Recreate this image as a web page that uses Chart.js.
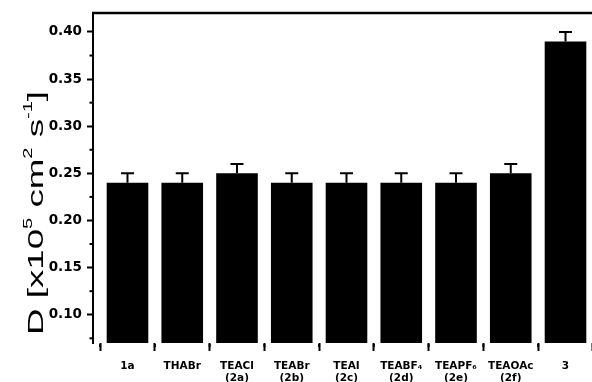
<!DOCTYPE html>
<html>
<head>
<meta charset="utf-8">
<script src="https://cdn.jsdelivr.net/npm/chart.js@4.4.0/dist/chart.umd.min.js"></script>
<style>
  html, body { margin: 0; padding: 0; background: #fff; overflow: hidden; width: 592px; height: 382px; }
  #wrap { width: 600px; height: 382px; }
</style>
</head>
<body>
<div id="wrap"><canvas id="chart" width="600" height="382"></canvas></div>
<script>
// Electrolytes / salts on the category axis (multi-line labels)
const categories = [
  ['1a'], ['THABr'], ['TEACl', '(2a)'], ['TEABr', '(2b)'], ['TEAI', '(2c)'],
  ['TEABF\u2084', '(2d)'], ['TEAPF\u2086', '(2e)'], ['TEAOAc', '(2f)'], ['3']
];
// Diffusion coefficients D in units of 10^-5 cm^2 s^-1
const diffusion = [0.24, 0.24, 0.25, 0.24, 0.24, 0.24, 0.24, 0.25, 0.39];
// Upper error bar sizes
const errors = [0.01, 0.01, 0.01, 0.01, 0.01, 0.01, 0.01, 0.01, 0.01];
// Value axis ticks
const yTicks = [0.10, 0.15, 0.20, 0.25, 0.30, 0.35, 0.40];
const yMinorTicks = [0.075, 0.125, 0.175, 0.225, 0.275, 0.325, 0.375];
// Axis title pieces: [text, superscript?]
const yTitleParts = [['D [x10', false], ['5', true], [' cm', false], ['2', true], [' s', false], ['-1', true], [']', false]];

const points = diffusion.map((v, i) => ({ x: i + 1, y: v }));

const decorations = {
  id: 'decorations',
  afterDatasetsDraw(chart) {
    const { ctx, chartArea: a, scales: { x, y } } = chart;
    ctx.save();
    ctx.strokeStyle = '#000';
    ctx.lineCap = 'butt';

    // error bars (upper only)
    ctx.lineWidth = 2;
    points.forEach((p, i) => {
      const px = x.getPixelForValue(p.x);
      const yTop = y.getPixelForValue(p.y);
      const yErr = y.getPixelForValue(p.y + errors[i]);
      ctx.beginPath();
      ctx.moveTo(px, yTop);
      ctx.lineTo(px, yErr);
      ctx.moveTo(px - 6.5, yErr);
      ctx.lineTo(px + 6.5, yErr);
      ctx.stroke();
    });

    // top frame line
    ctx.lineWidth = 2.5;
    ctx.beginPath();
    ctx.moveTo(a.left - 1, a.top);
    ctx.lineTo(a.right, a.top);
    ctx.stroke();

    // minor ticks
    ctx.lineWidth = 2;
    for (let i = 0; i <= categories.length; i++) {
      const px = x.getPixelForValue(i + 0.5);
      ctx.beginPath();
      ctx.moveTo(px, a.bottom + 1);
      ctx.lineTo(px, a.bottom + 4);
      ctx.stroke();
    }
    yMinorTicks.forEach(v => {
      const py = y.getPixelForValue(v);
      ctx.beginPath();
      ctx.moveTo(a.left - 3.5, py);
      ctx.lineTo(a.left, py);
      ctx.stroke();
    });

    // rotated value-axis title with superscripts
    const size = 22, supSize = 12;
    const mainFont = size + 'px "Liberation Sans", Arial, sans-serif';
    const supFont = supSize + 'px "Liberation Sans", Arial, sans-serif';
    let total = 0;
    const widths = yTitleParts.map(([t, sup]) => {
      ctx.font = sup ? supFont : mainFont;
      const w = ctx.measureText(t).width;
      total += w;
      return w;
    });
    const span = 244;
    ctx.translate(43, 213);
    ctx.rotate(-Math.PI / 2);
    ctx.scale(span / total, 1);
    ctx.fillStyle = '#000';
    ctx.textBaseline = 'alphabetic';
    let cx = -total / 2;
    yTitleParts.forEach(([t, sup], i) => {
      ctx.font = sup ? supFont : mainFont;
      ctx.fillText(t, cx, sup ? -size * 0.48 : 0);
      cx += widths[i];
    });
    ctx.restore();
  }
};

new Chart(document.getElementById('chart'), {
  type: 'bar',
  data: {
    datasets: [{
      data: points,
      backgroundColor: '#000',
      borderWidth: 0,
      barPercentage: 0.76,
      categoryPercentage: 1.0
    }]
  },
  options: {
    responsive: false,
    animation: false,
    layout: { padding: { top: 13, left: 0, right: 0, bottom: 0 } },
    plugins: { legend: { display: false }, tooltip: { enabled: false } },
    scales: {
      x: {
        type: 'linear',
        min: 0.37,
        max: 9.63,
        offset: false,
        afterBuildTicks: s => { s.ticks = categories.map((c, i) => ({ value: i + 1 })); },
        afterFit: s => { s.height = 39; },
        ticks: {
          autoSkip: false,
          maxRotation: 0,
          minRotation: 0,
          padding: 9,
          color: '#000',
          font: { family: 'DejaVu Sans', weight: 'bold', size: 10.5, lineHeight: 1.15 },
          callback: (v, i) => categories[i]
        },
        grid: { drawOnChartArea: false, drawTicks: true, tickLength: 8, tickWidth: 2, tickColor: '#000' },
        border: { display: false }
      },
      y: {
        min: 0.07,
        max: 0.42,
        afterBuildTicks: s => { s.ticks = yTicks.map(v => ({ value: v })); },
        afterFit: s => { s.width = 93; },
        ticks: {
          padding: 5,
          color: '#000',
          font: { family: 'DejaVu Sans', weight: 'bold', size: 13.5 },
          callback: v => v.toFixed(2)
        },
        grid: { drawOnChartArea: false, drawTicks: true, tickLength: 6, tickWidth: 2, tickColor: '#000' },
        border: { display: true, color: '#000', width: 2 }
      }
    }
  },
  plugins: [decorations]
});
</script>
</body>
</html>
